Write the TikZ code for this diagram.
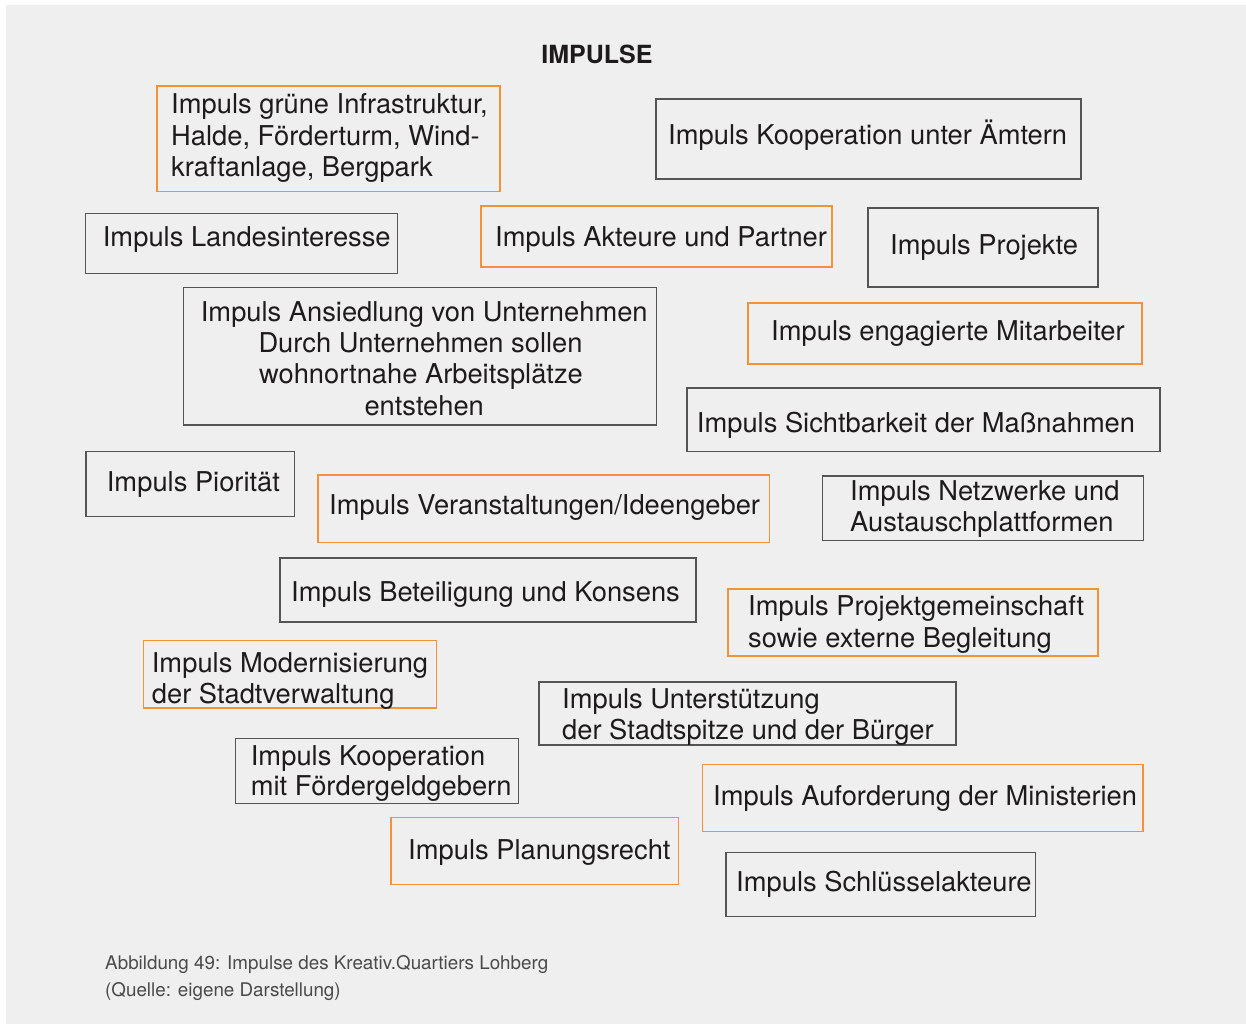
\documentclass[tikz,border=0pt]{standalone}
\usepackage{fontspec}
\setmainfont{TeX Gyre Heros}
\definecolor{panel}{HTML}{EFEFEF}
\definecolor{ink}{HTML}{1E1B1C}
\definecolor{frame}{HTML}{555555}
\definecolor{orng}{HTML}{F39237}
\definecolor{capgray}{HTML}{4A4A4A}
\newcommand{\bx}[6]{%
  \pgfmathsetmacro\bw{#5-#3}\pgfmathsetmacro\bh{#6-#4}%
  \node[#2, minimum width=\bw pt, minimum height=\bh pt] (#1) at ({(#3+#5)/2},{(#4+#6)/2}) {};}
\newcommand{\tl}[4]{\node[txt] (#1) at (#2,#3) {#4};}
\newcommand{\tc}[4]{\node[txt, anchor=base] (#1) at (#2,#3) {#4};}
\begin{document}
\begin{tikzpicture}[x=1pt,y=-1pt,
  gbox/.style={draw=frame, line width=1.3pt, inner sep=0pt, outer sep=0pt},
  obox/.style={draw=orng, line width=1.3pt, inner sep=0pt, outer sep=0pt},
  txt/.style={anchor=base west, inner sep=0pt, text=ink, font=\fontsize{27.3}{31.5}\selectfont},
  captxt/.style={anchor=base west, inner sep=0pt, text=capgray, font=\fontsize{18.8}{22}\selectfont}]
\useasboundingbox (0,0) rectangle (1246,1024);
\fill[white] (0,0) rectangle (1246,1024);
\fill[panel] (6,5) rectangle (1246,1024);

\node[inner sep=0pt, anchor=base, text=ink, font=\fontsize{25}{30}\selectfont\bfseries] (title) at (597,64) {IMPULSE};

% 1
\bx{b1}{obox}{157}{86}{500}{191.5}
\tl{t1a}{171}{114}{Impuls grüne Infrastruktur,}
\tl{t1b}{171}{145.5}{Halde, Förderturm, Wind-}
\tl{t1c}{171}{176.7}{kraftanlage, Bergpark}
% 2
\bx{b2}{gbox}{656}{99}{1081}{179}
\tl{t2}{668}{144.5}{Impuls Kooperation unter Ämtern}
% 3
\bx{b3}{gbox}{85.5}{213.5}{397.5}{273.3}
\tl{t3}{102.7}{246.7}{Impuls Landesinteresse}
% 4
\bx{b4}{obox}{481}{206}{832}{267}
\tl{t4}{495}{247}{Impuls Akteure und Partner}
% 5
\bx{b5}{gbox}{868}{208}{1098}{287}
\tl{t5}{890}{254.5}{Impuls Projekte}
% 6
\bx{b6}{gbox}{183.5}{287.5}{656.5}{425}
\tc{t6a}{424.2}{321.7}{Impuls Ansiedlung von Unternehmen}
\tc{t6b}{420.5}{352.7}{Durch Unternehmen sollen}
\tc{t6c}{421}{383.5}{wohnortnahe Arbeitsplätze}
\tc{t6d}{424.2}{415}{entstehen}
% 7
\bx{b7}{obox}{748}{303}{1142}{364}
\tl{t7}{771}{340.5}{Impuls engagierte Mitarbeiter}
% 8
\bx{b8}{gbox}{687}{388}{1160}{451.7}
\tl{t8}{696.7}{432.3}{Impuls Sichtbarkeit der Maßnahmen}
% 9
\bx{b9}{gbox}{86}{451.7}{294.7}{516.3}
\tl{t9}{106.7}{491}{Impuls Piorität}
% 10
\bx{b10}{obox}{318}{475}{769.7}{542.3}
\tl{t10}{329}{514.5}{Impuls Veranstaltungen/Ideengeber}
% 11
\bx{b11}{gbox}{822.7}{476}{1143.3}{540.7}
\tl{t11a}{850}{500}{Impuls Netzwerke und}
\tl{t11b}{850}{531.7}{Austauschplattformen}
% 12
\bx{b12}{gbox}{280}{558}{696}{622}
\tl{t12}{291}{601.5}{Impuls Beteiligung und Konsens}
% 13
\bx{b13}{obox}{728}{589}{1098}{656}
\tl{t13a}{748}{615.5}{Impuls Projektgemeinschaft}
\tl{t13b}{748}{647}{sowie externe Begleitung}
% 14
\bx{b14}{obox}{143.3}{640.7}{436.7}{708}
\tl{t14a}{151.7}{672.3}{Impuls Modernisierung}
\tl{t14b}{151.7}{703.3}{der Stadtverwaltung}
% 15
\bx{b15}{gbox}{539}{682}{956}{745}
\tl{t15a}{562}{708.5}{Impuls Unterstützung}
\tl{t15b}{562}{739.5}{der Stadtspitze und der Bürger}
% 16
\bx{b16}{gbox}{235.7}{738.7}{518.7}{803.3}
\tl{t16a}{250.7}{765}{Impuls Kooperation}
\tl{t16b}{250.7}{795.7}{mit Fördergeldgebern}
% 17
\bx{b17}{obox}{702.5}{764.7}{1143}{831.7}
\tl{t17}{713}{805.7}{Impuls Auforderung der Ministerien}
% 18
\bx{b18}{obox}{391}{817.3}{678.5}{884.7}
\tl{t18}{408}{859.3}{Impuls Planungsrecht}
% 19
\bx{b19}{gbox}{726}{852.7}{1035.7}{916.7}
\tl{t19}{736}{891}{Impuls Schlüsselakteure}

\node[captxt] (cap1) at (105,969.5) {Abbildung 49: Impulse des Kreativ.Quartiers Lohberg};
\node[captxt] (cap2) at (105,996.5) {(Quelle: eigene Darstellung)};
\end{tikzpicture}
\end{document}
